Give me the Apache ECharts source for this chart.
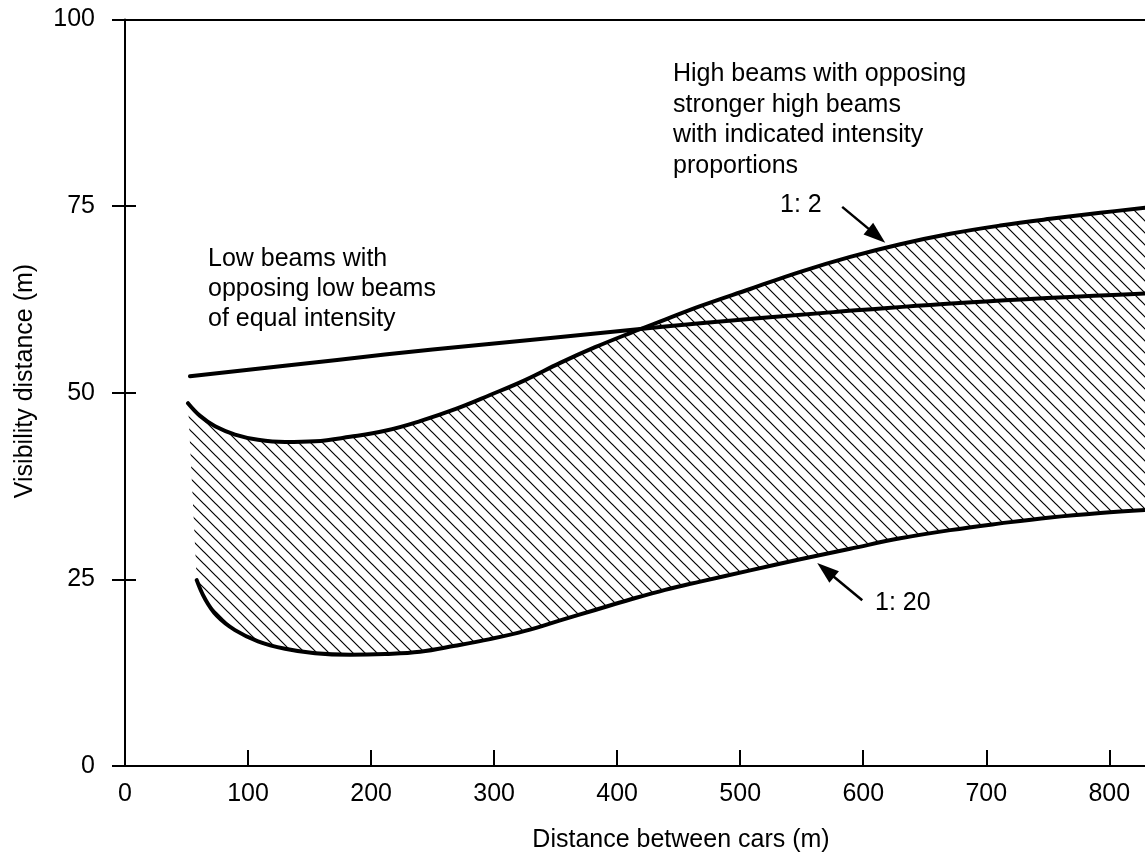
<!DOCTYPE html>
<html><head><meta charset="utf-8">
<script src="https://cdn.jsdelivr.net/npm/echarts@6/dist/echarts.min.js"></script>
<style>html,body{margin:0;padding:0;background:#fff}#c{width:1145px;height:856px}</style>
</head><body><div id="c"></div>
<script>
// ---- data ----
const xTickValues = [0, 100, 200, 300, 400, 500, 600, 700, 800];
const yTickValues = [0, 25, 50, 75, 100];

// Low beams with opposing low beams of equal intensity
const lowBeamX = [52.8, 172.4, 250, 350, 410.6, 467.5, 575.6, 684.6, 829];
const lowBeamY = [52.2, 54.4, 55.8, 57.4, 58.4, 59.3, 60.8, 62.1, 63.3];

// High beams, opposing stronger high beams, ratio 1:2 (upper edge of band)
const ratio2X = [51.2, 61.0, 73.2, 89.4, 108.1, 130.1, 154.5, 182.9, 211.4, 239.8, 268.3, 296.7, 325.2, 353.7, 382.1, 410.6, 439.0, 467.5, 508.1, 548.8, 589.4, 630.1, 670.7, 711.4, 752.0, 792.7, 829.3];
const ratio2Y = [48.6, 46.9, 45.5, 44.4, 43.7, 43.4, 43.5, 44.1, 44.9, 46.2, 47.8, 49.7, 51.7, 54.0, 56.1, 58.0, 59.8, 61.6, 63.9, 66.2, 68.2, 69.9, 71.3, 72.4, 73.3, 74.1, 74.8];

// ratio 1:20 (lower edge of band)
const ratio20X = [58.3, 65.0, 74.8, 89.4, 108.1, 130.1, 154.5, 182.9, 211.4, 239.8, 268.3, 296.7, 325.2, 353.7, 382.1, 410.6, 439.0, 467.5, 508.1, 548.8, 589.4, 630.1, 670.7, 711.4, 752.0, 792.7, 829.3];
const ratio20Y = [24.9, 22.4, 20.1, 18.2, 16.7, 15.7, 15.1, 14.9, 15.0, 15.3, 16.1, 17.0, 18.1, 19.5, 20.9, 22.3, 23.6, 24.7, 26.2, 27.7, 29.1, 30.5, 31.6, 32.5, 33.3, 33.9, 34.3];

// pointer arrows for the two ratio labels: [tail, tip] in data units
const arrow12 = [[582.9, 74.9], [617.9, 70.1]];
const arrow120 = [[599.2, 22.2], [562.6, 27.2]];

const lowBeamText = 'Low beams with\nopposing low beams\nof equal intensity';
const highBeamText = 'High beams with opposing\nstronger high beams\nwith indicated intensity\nproportions';
const label12 = '1: 2';
const label120 = '1: 20';
const xAxisTitle = 'Distance between cars (m)';
const yAxisTitle = 'Visibility distance (m)';

const zip = (xs, ys) => xs.map((x, i) => [x, ys[i]]);

// ---- rendering helpers ----
const SMOOTH = 0.4;
const FONT = '"Liberation Sans", Arial, Helvetica, sans-serif';

function hatchCanvas() {
  const s = 12;
  const c = document.createElement('canvas');
  c.width = s; c.height = s;
  const g = c.getContext('2d');
  g.strokeStyle = '#000';
  g.lineWidth = 1.2;
  g.beginPath();
  g.moveTo(-2, -2); g.lineTo(s + 2, s + 2);
  g.moveTo(-2, s - 2); g.lineTo(2, s + 2);
  g.moveTo(s - 2, -2); g.lineTo(s + 2, 2);
  g.stroke();
  return c;
}

// same smoothing as the line series, so the hatch follows the drawn curves
function smoothDense(p, s) {
  const N = 14;
  const out = [p[0].slice()];
  let cp0 = p[0].slice();
  for (let i = 1; i < p.length; i++) {
    const prev = p[i - 1], cur = p[i], next = p[i + 1];
    let cp1, nextCp0;
    if (!next) { cp1 = cur.slice(); nextCp0 = cur.slice(); }
    else {
      let vx = next[0] - prev[0], vy = next[1] - prev[1];
      const l0 = Math.hypot(cur[0] - prev[0], cur[1] - prev[1]);
      const l1 = Math.hypot(next[0] - cur[0], next[1] - cur[1]);
      const r = l1 / (l0 + l1);
      let nx = cur[0] + vx * s * r, ny = cur[1] + vy * s * r;
      nx = Math.min(nx, Math.max(next[0], cur[0])); ny = Math.min(ny, Math.max(next[1], cur[1]));
      nx = Math.max(nx, Math.min(next[0], cur[0])); ny = Math.max(ny, Math.min(next[1], cur[1]));
      vx = nx - cur[0]; vy = ny - cur[1];
      let cx = cur[0] - vx * l0 / l1, cy = cur[1] - vy * l0 / l1;
      cx = Math.min(cx, Math.max(prev[0], cur[0])); cy = Math.min(cy, Math.max(prev[1], cur[1]));
      cx = Math.max(cx, Math.min(prev[0], cur[0])); cy = Math.max(cy, Math.min(prev[1], cur[1]));
      vx = cur[0] - cx; vy = cur[1] - cy;
      nextCp0 = [cur[0] + vx * l1 / l0, cur[1] + vy * l1 / l0];
      cp1 = [cx, cy];
    }
    for (let k = 1; k <= N; k++) {
      const t = k / N, u = 1 - t;
      out.push([
        u*u*u*prev[0] + 3*u*u*t*cp0[0] + 3*u*t*t*cp1[0] + t*t*t*cur[0],
        u*u*u*prev[1] + 3*u*u*t*cp0[1] + 3*u*t*t*cp1[1] + t*t*t*cur[1]
      ]);
    }
    cp0 = nextCp0;
  }
  return out;
}

function arrowGroup(api, a) {
  const p0 = api.coord(a[0]), p1 = api.coord(a[1]);
  const dx = p1[0] - p0[0], dy = p1[1] - p0[1];
  const L = Math.hypot(dx, dy), ux = dx / L, uy = dy / L;
  const HL = 22, HW = 7.5;
  const bx = p1[0] - ux * HL, by = p1[1] - uy * HL;
  return [
    { type: 'line', shape: { x1: p0[0], y1: p0[1], x2: bx + ux * 2, y2: by + uy * 2 },
      style: { stroke: '#000', lineWidth: 2.5 } },
    { type: 'polygon', shape: { points: [[p1[0], p1[1]], [bx - uy * HW, by + ux * HW], [bx + uy * HW, by - ux * HW]] },
      style: { fill: '#000', stroke: null } }
  ];
}

const pattern = { image: hatchCanvas(), repeat: 'repeat' };
const chart = echarts.init(document.getElementById('c'), null, { renderer: 'canvas' });

const curveStyle = { color: '#000', width: 4, cap: 'round', join: 'round' };
const axisLabelStyle = { color: '#000', fontSize: 25, fontFamily: FONT };

const option = {
  backgroundColor: '#fff',
  animation: false,
  grid: { left: 125, right: 0, top: 19.5, bottom: 90, containLabel: false },
  xAxis: [{
    type: 'value', min: 0, max: 829, interval: 100,
    axisLine: { show: true, onZero: false, lineStyle: { color: '#000', width: 2 } },
    axisTick: { show: true, inside: true, length: 16, lineStyle: { color: '#000', width: 2 } },
    axisLabel: Object.assign({ margin: 16, showMaxLabel: false,
      formatter: v => xTickValues.indexOf(v) >= 0 ? String(v) : '' }, axisLabelStyle),
    splitLine: { show: false }
  }, {
    type: 'value', position: 'top', min: 0, max: 829,
    axisLine: { show: true, onZero: false, lineStyle: { color: '#000', width: 2 } },
    axisTick: { show: false }, axisLabel: { show: false }, splitLine: { show: false }
  }],
  yAxis: [{
    type: 'value', min: 0, max: 100, interval: 25,
    axisLine: { show: true, onZero: false, lineStyle: { color: '#000', width: 2 } },
    axisTick: { show: true, inside: false, length: 13, lineStyle: { color: '#000', width: 2 } },
    axisLabel: Object.assign({ margin: 30,
      formatter: v => yTickValues.indexOf(v) >= 0 ? String(v) : '' }, axisLabelStyle),
    splitLine: { show: false }
  }, {
    type: 'value', position: 'left', min: 0, max: 100, interval: 25,
    axisLine: { show: false },
    axisTick: { show: true, inside: true, length: 11, lineStyle: { color: '#000', width: 2 } },
    axisLabel: { show: false }, splitLine: { show: false }
  }],
  series: [
    {
      name: 'band', type: 'custom', xAxisIndex: 0, yAxisIndex: 0, silent: true, clip: true, z: 1,
      data: [[0, 0]],
      renderItem: function (params, api) {
        const up = smoothDense(ratio2X.map((x, i) => api.coord([x, ratio2Y[i]])), SMOOTH);
        const lo = smoothDense(ratio20X.map((x, i) => api.coord([x, ratio20Y[i]])), SMOOTH);
        return {
          type: 'polygon',
          shape: { points: up.concat(lo.slice().reverse()) },
          style: { fill: pattern, stroke: null }
        };
      }
    },
    {
      name: 'Low beams', type: 'line', data: zip(lowBeamX, lowBeamY), smooth: SMOOTH,
      showSymbol: false, symbol: 'none', lineStyle: curveStyle, silent: true, z: 3
    },
    {
      name: '1:2', type: 'line', data: zip(ratio2X, ratio2Y), smooth: SMOOTH,
      showSymbol: false, symbol: 'none', lineStyle: curveStyle, silent: true, z: 3
    },
    {
      name: '1:20', type: 'line', data: zip(ratio20X, ratio20Y), smooth: SMOOTH,
      showSymbol: false, symbol: 'none', lineStyle: curveStyle, silent: true, z: 3
    },
    {
      name: 'arrows', type: 'custom', xAxisIndex: 0, yAxisIndex: 0, silent: true, clip: false, z: 4,
      data: [[0, 0]],
      renderItem: function (params, api) {
        return { type: 'group', children: arrowGroup(api, arrow12).concat(arrowGroup(api, arrow120)) };
      }
    }
  ],
  graphic: [
    { type: 'text', left: 208, top: 244, style: { text: lowBeamText, font: '25px ' + FONT, fill: '#000', lineHeight: 30 } },
    { type: 'text', left: 673, top: 59, style: { text: highBeamText, font: '25px ' + FONT, fill: '#000', lineHeight: 30.5 } },
    { type: 'text', left: 780, top: 193, style: { text: label12, font: '25px ' + FONT, fill: '#000' } },
    { type: 'text', left: 875, top: 591, style: { text: label120, font: '25px ' + FONT, fill: '#000' } },
    { type: 'text', x: 681, y: 840, style: { text: xAxisTitle, font: '25px ' + FONT, fill: '#000', textAlign: 'center', textVerticalAlign: 'middle' } },
    { type: 'text', x: 25, y: 381, rotation: Math.PI / 2, style: { text: yAxisTitle, font: '25px ' + FONT, fill: '#000', textAlign: 'center', textVerticalAlign: 'middle' } }
  ]
};
chart.setOption(option);
</script>
</body></html>
